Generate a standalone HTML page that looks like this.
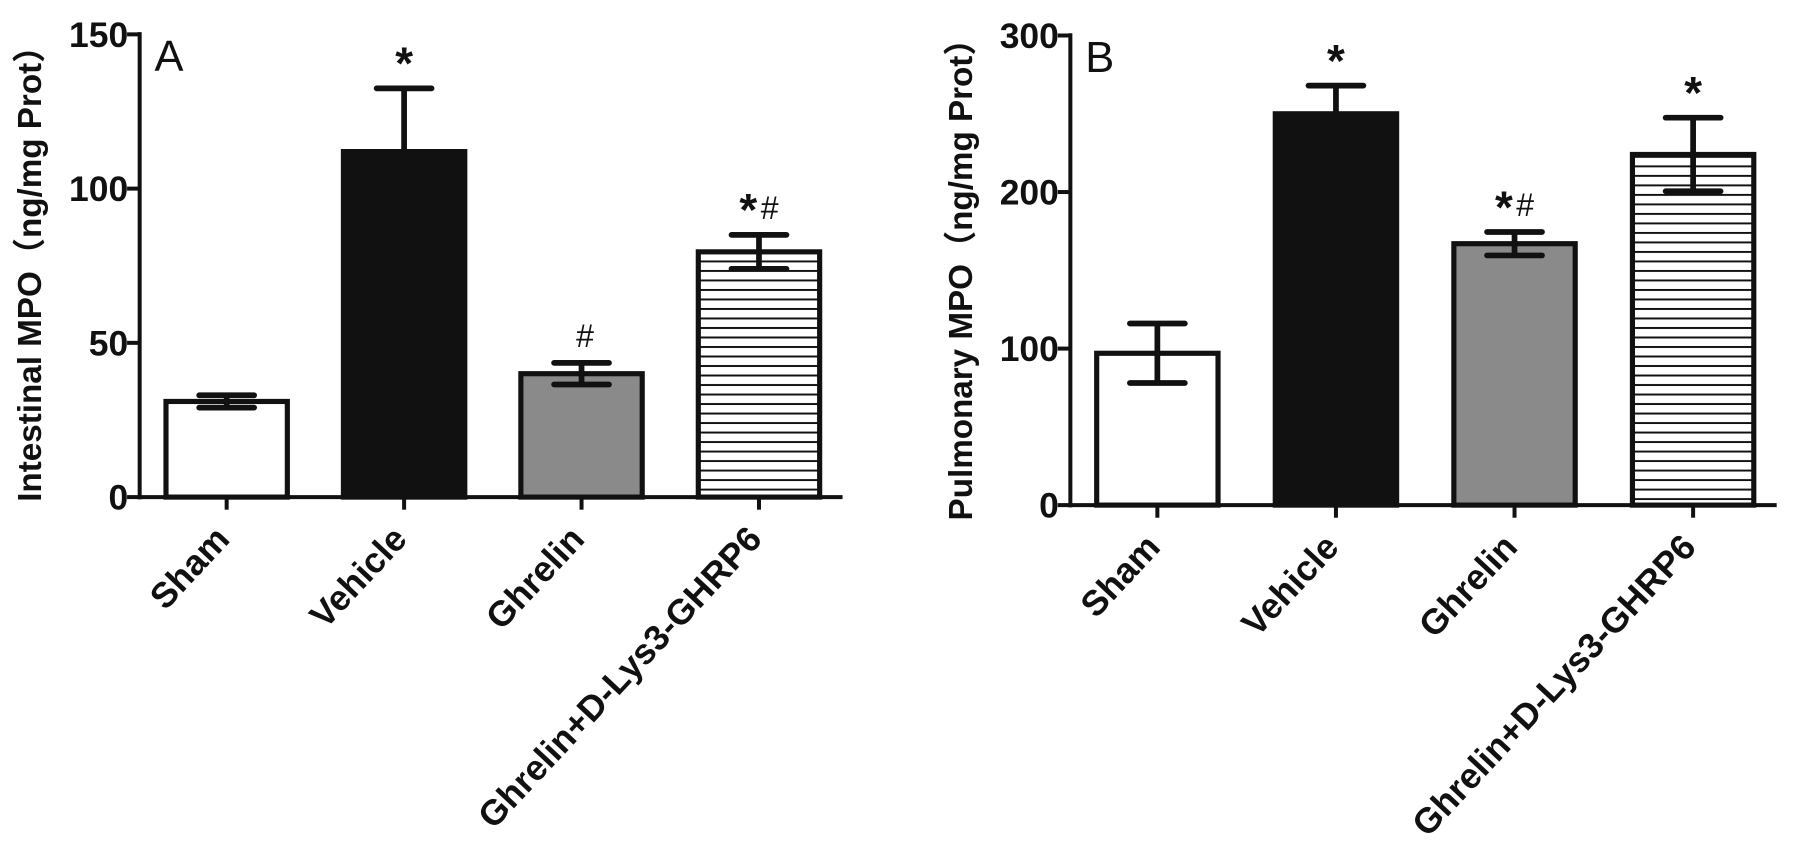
<!DOCTYPE html>
<html><head><meta charset="utf-8"><style>
html,body{margin:0;padding:0;background:#fff;}
svg{display:block;font-family:"Liberation Sans",Arial,sans-serif;}
</style></head><body>
<svg id="chart" width="1795" height="843" viewBox="0 0 1568 736" preserveAspectRatio="none">
<defs>
<pattern id="hatch" patternUnits="userSpaceOnUse" width="10" height="8.3">
<rect width="10" height="8.3" fill="#fff"/>
<line x1="0" y1="4.15" x2="10" y2="4.15" stroke="#111" stroke-width="1.7"/>
</pattern>
</defs>
</svg>
<script>
const categories = ["Sham","Vehicle","Ghrelin","Ghrelin+D-Lys3-GHRP6"];
const valuesA = [31, 112, 40, 79.5];
const errA = [2, 20.5, 3.5, 5.5];
const marksA = ["", "*", "#", "*#"];
const ticksA = [0, 50, 100, 150];
const valuesB = [97, 250, 167, 224];
const errB = [19, 18, 7.5, 23.5];
const marksB = ["", "*", "*#", "*"];
const ticksB = [0, 100, 200, 300];

const NS = "http://www.w3.org/2000/svg";
const svg = document.getElementById("chart");
function mk(tag, attrs, parent){
  const e = document.createElementNS(NS, tag);
  for (const k in attrs) e.setAttribute(k, attrs[k]);
  (parent||svg).appendChild(e);
  return e;
}
const fills = ["#fff", "#111", "#8a8a8a", "url(#hatch)"];

function panel(p){
  const g = mk("g", {});
  
  
  const y = v => p.y0 - (v / p.max) * (p.y0 - p.yTop);
  const lastX = p.firstX + (categories.length - 1) * p.step + p.bw/2 + 20;
  const ax = mk("line", {x1:p.axisX, y1:p.yTop-2, x2:p.axisX, y2:p.y0+2, stroke:"#111", "stroke-width":3.5}, g);
  
  
  const xax = mk("line", {x1:p.axisX, y1:p.y0, x2:lastX, y2:p.y0, stroke:"#111", "stroke-width":3.5}, g);
  
  
  p.ticks.forEach(t => {
    const tl = mk("line", {x1:p.axisX-11, y1:y(t), x2:p.axisX, y2:y(t), stroke:"#111", "stroke-width":3.5}, g);
    
    
    const tx = mk("text", {x:p.axisX-10, y:y(t)+11, "text-anchor":"end", "font-size":31, "font-weight":"bold", fill:"#111"}, g);
    tx.textContent = t;
    
    
  });
  const yt = mk("text", {transform:`translate(${p.titleX},${p.titleY}) rotate(-90)`, "text-anchor":"middle", "font-size":29, "font-weight":"bold", fill:"#111"}, g);
  yt.textContent = p.title;
  yt.style.fontFamily = '"Liberation Sans","Noto Sans CJK SC",sans-serif';
  
  
  const pl = mk("text", {x:p.axisX+13, y:p.yTop+32, "font-size":38, fill:"#111"}, g);
  pl.textContent = p.letter;
  
  
  categories.forEach((c, i) => {
    const cx = p.firstX + i * p.step;
    const top = y(p.values[i]);
    const bar = mk("rect", {x:cx - p.bw/2, y:top, width:p.bw, height:p.y0 - top, fill:fills[i], stroke:"#111", "stroke-width":4.5}, g);
    
    
    const xt = mk("line", {x1:cx, y1:p.y0, x2:cx, y2:p.y0+11, stroke:"#111", "stroke-width":3.5}, g);
    
    
    const hi = y(p.values[i] + p.err[i]);
    const lo = y(p.values[i] - p.err[i]);
    const eb = mk("path", {d:`M${cx},${hi}V${lo}M${cx-24},${hi}H${cx+24}M${cx-24},${lo}H${cx+24}`, stroke:"#111", "stroke-width":5, "stroke-linecap":"round", fill:"none"}, g);
    
    
    if (p.marks[i]) {
      const m = mk("text", {x:cx, y:hi - 8, "text-anchor":"middle", fill:"#111"}, g);
      
      
      for (const ch of p.marks[i]) {
        const ts = mk("tspan", ch === "*" ? {"font-size":40, "font-weight":"bold"} : {"font-size":28, dx:"3", dy:"-6"}, m);
        ts.textContent = ch;
      }
    }
    const lb = mk("text", {transform:`translate(${cx+4},${p.y0+38}) rotate(-47)`, "text-anchor":"end", "font-size":31, "font-weight":"bold", fill:"#111"}, g);
    lb.textContent = c;
    
    
  });
}
panel({name:"panel-a", letter:"A", axisX:122, y0:434, yTop:30, max:150, ticks:ticksA, values:valuesA, err:errA, marks:marksA,
  firstX:198, step:155, bw:106, title:"Intestinal MPO（ng/mg Prot）", titleX:36, titleY:232});
panel({name:"panel-b", letter:"B", axisX:935, y0:441, yTop:31, max:300, ticks:ticksB, values:valuesB, err:errB, marks:marksB,
  firstX:1011, step:156, bw:106, title:"Pulmonary MPO（ng/mg Prot）", titleX:849, titleY:237});
</script>
</body></html>
